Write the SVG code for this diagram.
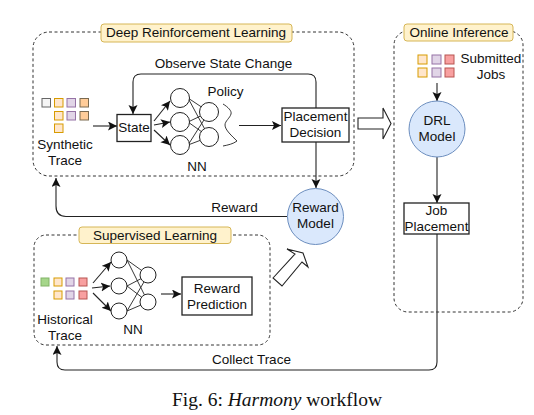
<svg xmlns="http://www.w3.org/2000/svg" width="534" height="415" viewBox="0 0 534 415">
<defs>
<marker id="ah" markerUnits="userSpaceOnUse" markerWidth="11" markerHeight="10" refX="9" refY="4.500" orient="auto"><path d="M0 0L9 4.500L0 9L2 4.500Z" fill="#111"/></marker>
</defs>
<style>
text{font-family:"Liberation Sans",Arial,sans-serif;font-size:13.500px;fill:#111;text-anchor:middle}
.cap{font-family:"Liberation Serif","Times New Roman",serif;font-size:19.500px}
.dash{fill:none;stroke:#333;stroke-width:1;stroke-dasharray:3 2.500}
.lab{fill:#fff2cc;stroke:#d6b656;stroke-width:1}
.box{fill:#fff;stroke:#222;stroke-width:1.300}
.c{fill:none;stroke:#222;stroke-width:1.100;marker-end:url(#ah)}
.l{fill:none;stroke:#222;stroke-width:1.100}
.n{fill:#fff;stroke:#222;stroke-width:1}
.t{fill:none;stroke:#222;stroke-width:.9}
.blue{fill:#dae8fc;stroke:#6c8ebf;stroke-width:1}
.g{fill:#f5f5f5;stroke:#666}
.o{fill:#ffe6cc;stroke:#d79b00}
.p{fill:#e1d5e7;stroke:#9673a6}
.d{fill:#ffcc99;stroke:#7a6a50}
.r{fill:#f8a0a0;stroke:#b85450}
.gr{fill:#a5d68a;stroke:#82b366}
.ar{fill:#fff;stroke:#222;stroke-width:1.100}
</style>
<g id="connectors">
<path class="c" d="M93 126H117"/>
<path class="c" d="M316 108V82Q316 74 308 74H141Q133 74 133 82V114"/>
<path class="c" d="M154 121L170 101"/>
<path class="c" d="M154 125L170 122"/>
<path class="c" d="M154 130L170 145"/>
<path class="c" d="M239 125.500H281"/>
<path class="c" d="M316 142V188"/>
<path class="l" d="M287 216.500H66Q56 216.500 56 206"/>
<path class="c" d="M56 206V178"/>
<path class="c" d="M437 83V101"/>
<path class="c" d="M437 157V203"/>
<path class="l" d="M437 234V362Q437 370 429 370H65Q57 370 57 362"/>
<path class="c" d="M57 362V346"/>
<path class="c" d="M93 283L111 262"/>
<path class="c" d="M92 288L110 286"/>
<path class="c" d="M93 293L111 311"/>
<path class="c" d="M161 294H181"/>
</g>
<g id="deep-rl">
<rect class="dash" x="33" y="32" width="321" height="144" rx="16"/>
<rect class="lab" x="101" y="24" width="191" height="18" rx="3"/>
<text x="196" y="37">Deep Reinforcement Learning</text>
</g>
<g id="synthetic-trace">
<rect class="g" x="42" y="98.500" width="8.500" height="8.500"/>
<rect class="o" x="54.500" y="98.500" width="8.500" height="8.500"/><rect class="p" x="67" y="98.500" width="8.500" height="8.500"/><rect class="d" x="80" y="98.500" width="8.500" height="8.500"/>
<rect class="o" x="54.500" y="111.500" width="8.500" height="8.500"/><rect class="p" x="67" y="111.500" width="8.500" height="8.500"/><rect class="d" x="80" y="111.500" width="8.500" height="8.500"/>
<rect class="o" x="54.500" y="124" width="8.500" height="8.500"/>
<text x="65" y="149">Synthetic</text><text x="65" y="165">Trace</text>
</g>
<g id="state"><rect class="box" x="117" y="114.500" width="34" height="27"/><text x="134" y="132">State</text></g>
<g id="observe-label"><text x="223.500" y="68">Observe State Change</text></g>
<g id="policy-nn">
<path class="t" d="M188 98L209 112M188 98L209 137M188 122L209 112M188 122L209 137M188 145L209 112M188 145L209 137"/>
<circle class="n" cx="180" cy="98" r="9.500"/><circle class="n" cx="180" cy="122" r="9.500"/><circle class="n" cx="180" cy="145" r="9.500"/>
<circle class="n" cx="209" cy="112" r="9.500"/><circle class="n" cx="209" cy="137" r="9.500"/>
<path class="t" d="M223 104C228 107 232 111 231 114C230 118 225 121 225 125C225 130 232 136 237 141C233 144 228 145 223 146"/>
<text x="225.500" y="96">Policy</text><text x="197" y="171">NN</text>
</g>
<g id="placement-decision"><rect class="box" x="282" y="108" width="67" height="34"/><text x="315.500" y="121">Placement</text><text x="315.500" y="137">Decision</text></g>
<g id="reward-model"><circle class="blue" cx="315.500" cy="216.500" r="28"/><text x="315.500" y="212">Reward</text><text x="315.500" y="228">Model</text></g>
<g id="reward-label"><text x="234.500" y="212">Reward</text></g>
<g id="transfer-arrows">
<path class="ar" d="M358 118H383V108L391 123.500L383 139V129H358Z"/>
<path class="ar" d="M273 278L295 254L287 249L303 253L308 267L302 262L282 286Z"/>
</g>
<g id="supervised">
<rect class="dash" x="34" y="235" width="236" height="110" rx="12"/>
<rect class="lab" x="79" y="227" width="152" height="16.500" rx="3"/>
<text x="155" y="240">Supervised Learning</text>
</g>
<g id="historical-trace">
<rect class="gr" x="41" y="278" width="8" height="8"/><rect class="o" x="54" y="278" width="8" height="8"/><rect class="p" x="66" y="278" width="8" height="8"/><rect class="r" x="79" y="278" width="8" height="8"/>
<rect class="o" x="54" y="291" width="8" height="8"/><rect class="p" x="66" y="291" width="8" height="8"/><rect class="r" x="79" y="291" width="8" height="8"/>
<text x="65" y="324">Historical</text><text x="65" y="340">Trace</text>
</g>
<g id="supervised-nn">
<path class="t" d="M127 260L148 275M127 260L148 302M127 286L148 275M127 286L148 302M127 311L148 275M127 311L148 302"/>
<circle class="n" cx="119" cy="260" r="8"/><circle class="n" cx="119" cy="286" r="8"/><circle class="n" cx="119" cy="311" r="8"/>
<circle class="n" cx="148" cy="275" r="8"/><circle class="n" cx="148" cy="302" r="8"/>
<text x="133" y="334">NN</text>
</g>
<g id="reward-prediction"><rect class="box" x="182" y="277" width="70" height="38"/><text x="217" y="293">Reward</text><text x="217" y="309">Prediction</text></g>
<g id="collect-label"><text x="251.500" y="364">Collect Trace</text></g>
<g id="online">
<rect class="dash" x="394" y="31" width="129" height="281" rx="14"/>
<rect class="lab" x="404" y="24" width="109" height="17" rx="3"/>
<text x="459" y="37">Online Inference</text>
</g>
<g id="submitted-jobs">
<rect class="o" x="418" y="55" width="9" height="9"/><rect class="p" x="432" y="55" width="9" height="9"/><rect class="r" x="445" y="55" width="9" height="9"/>
<rect class="o" x="418" y="68" width="9" height="9"/><rect class="p" x="432" y="68" width="9" height="9"/><rect class="r" x="445" y="68" width="9" height="9"/>
<text x="491" y="63">Submitted</text><text x="491" y="79">Jobs</text>
</g>
<g id="drl-model"><circle class="blue" cx="437" cy="129" r="28"/><text x="437" y="125">DRL</text><text x="437" y="141">Model</text></g>
<g id="job-placement"><rect class="box" x="404" y="203" width="65" height="31"/><text x="436.500" y="215">Job</text><text x="436.500" y="231">Placement</text></g>
<g id="caption"><text class="cap" x="277" y="406">Fig. 6: <tspan font-style="italic">Harmony</tspan> workflow</text></g>
</svg>
